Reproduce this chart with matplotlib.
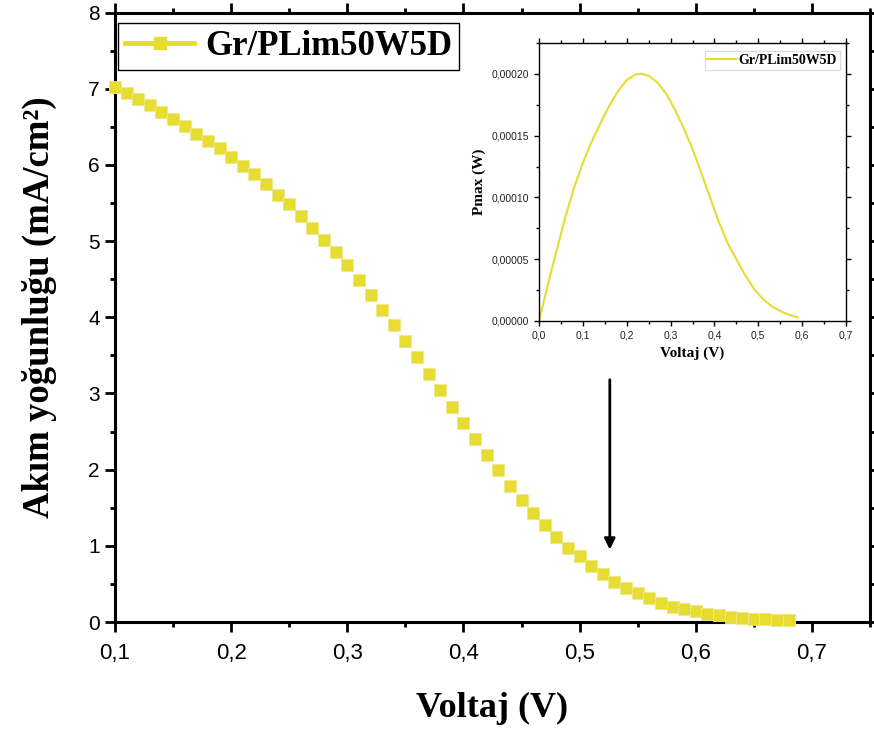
import matplotlib
matplotlib.use("Agg")
import matplotlib.pyplot as plt
from matplotlib.lines import Line2D
from matplotlib.ticker import MultipleLocator, FuncFormatter

# J-V data (current density, mA/cm^2)
voltage = [0.10, 0.11, 0.12, 0.13, 0.14, 0.15, 0.16, 0.17, 0.18, 0.19,
           0.20, 0.21, 0.22, 0.23, 0.24, 0.25, 0.26, 0.27, 0.28, 0.29,
           0.30, 0.31, 0.32, 0.33, 0.34, 0.35, 0.36, 0.37, 0.38, 0.39,
           0.40, 0.41, 0.42, 0.43, 0.44, 0.45, 0.46, 0.47, 0.48, 0.49,
           0.50, 0.51, 0.52, 0.53, 0.54, 0.55, 0.56, 0.57, 0.58, 0.59,
           0.60, 0.61, 0.62, 0.63, 0.64, 0.65, 0.66, 0.67, 0.68]
current = [7.02, 6.94, 6.86, 6.78, 6.69, 6.60, 6.51, 6.41, 6.31, 6.22,
           6.10, 5.99, 5.88, 5.75, 5.61, 5.48, 5.33, 5.17, 5.01, 4.85,
           4.68, 4.49, 4.29, 4.10, 3.90, 3.69, 3.48, 3.26, 3.05, 2.82,
           2.61, 2.40, 2.19, 1.99, 1.79, 1.60, 1.43, 1.27, 1.11, 0.97,
           0.86, 0.74, 0.63, 0.53, 0.45, 0.38, 0.31, 0.25, 0.20, 0.17,
           0.14, 0.11, 0.09, 0.07, 0.05, 0.04, 0.035, 0.03, 0.02]

# P-V data for the inset (W)
p_voltage = [0.00, 0.02, 0.04, 0.06, 0.08, 0.10, 0.12, 0.14, 0.16, 0.18,
             0.20, 0.22, 0.235, 0.25, 0.27, 0.29, 0.31, 0.33, 0.35, 0.37,
             0.39, 0.41, 0.43, 0.45, 0.47, 0.49, 0.51, 0.53, 0.55, 0.57, 0.59]
power = [0.0, 2.9e-5, 5.7e-5, 8.4e-5, 1.08e-4, 1.28e-4, 1.45e-4, 1.60e-4, 1.74e-4, 1.86e-4,
         1.95e-4, 1.995e-4, 2.0e-4, 1.985e-4, 1.93e-4, 1.84e-4, 1.71e-4, 1.56e-4, 1.39e-4, 1.20e-4,
         1.00e-4, 8.0e-5, 6.3e-5, 5.0e-5, 3.7e-5, 2.6e-5, 1.8e-5, 1.2e-5, 8.0e-6, 5.0e-6, 3.0e-6]

series_label = "Gr/PLim50W5D"
arrow_v = 0.526
arrow_from, arrow_to = 3.18, 0.95

yellow = "#E6DC32"
serif = ["Liberation Serif", "DejaVu Serif"]
sans = ["Liberation Sans", "DejaVu Sans"]

fig = plt.figure(figsize=(8.74, 7.31), dpi=100)
ax = fig.add_axes([0.1316, 0.1491, 0.8638, 0.8338])

ax.plot(voltage, current, linestyle="none", marker="s", markersize=9,
        markerfacecolor=yellow, markeredgecolor="#EEE88A", markeredgewidth=0.6,
        clip_on=False, zorder=3)

ax.set_xlim(0.1, 0.75)
ax.set_ylim(0, 8)
ax.xaxis.set_major_locator(MultipleLocator(0.1))
ax.xaxis.set_minor_locator(MultipleLocator(0.05))
ax.yaxis.set_major_locator(MultipleLocator(1))
ax.yaxis.set_minor_locator(MultipleLocator(0.5))
ax.xaxis.set_major_formatter(FuncFormatter(lambda v, p: f"{v:.1f}".replace(".", ",")))
ax.yaxis.set_major_formatter(FuncFormatter(lambda v, p: f"{v:.0f}"))

for s in ax.spines.values():
    s.set_linewidth(2.2)
ax.tick_params(which="both", direction="out", top=True, right=True, width=2.0)
ax.tick_params(which="major", length=7)
ax.tick_params(which="minor", length=3.5)
ax.tick_params(axis="x", which="major", pad=8, labelsize=16)
ax.tick_params(axis="y", which="major", pad=4, labelsize=15)
for t in ax.get_xticklabels() + ax.get_yticklabels():
    t.set_family(sans)

ax.set_xlabel("Voltaj (V)", family=serif, fontweight="bold", fontsize=26, labelpad=20)
ax.set_ylabel("Akım yoğunluğu (mA/cm²)", family=serif, fontweight="bold",
              fontsize=26.5)
ax.yaxis.set_label_coords(-0.077, 0.517)

handle = Line2D([], [], color=yellow, lw=3.5, marker="s", markersize=9,
                markerfacecolor=yellow, markeredgecolor=yellow)
leg = ax.legend([handle], [series_label], loc="upper left",
                bbox_to_anchor=(0.004, 0.983), borderaxespad=0, borderpad=0.2,
                handlelength=2.0, handletextpad=0.3, fancybox=False,
                edgecolor="black", framealpha=1,
                prop={"family": serif, "weight": "bold", "size": 25})
leg.get_frame().set_linewidth(1.0)

ax.annotate("", xy=(arrow_v, arrow_to), xytext=(arrow_v, arrow_from),
            arrowprops=dict(arrowstyle="-|>", color="black", lw=2,
                            mutation_scale=16, shrinkA=0, shrinkB=0))

# inset: power curve
ins = fig.add_axes([0.6167, 0.5609, 0.3513, 0.3803])
ins.plot(p_voltage, power, color=yellow, lw=1.5, label=series_label)
ins.set_xlim(0, 0.7)
ins.set_ylim(0, 0.000225)
ins.xaxis.set_major_locator(MultipleLocator(0.1))
ins.xaxis.set_minor_locator(MultipleLocator(0.05))
ins.yaxis.set_major_locator(MultipleLocator(0.00005))
ins.yaxis.set_minor_locator(MultipleLocator(0.000025))
ins.xaxis.set_major_formatter(FuncFormatter(lambda v, p: f"{v:.1f}".replace(".", ",")))
ins.yaxis.set_major_formatter(FuncFormatter(lambda v, p: f"{v:.5f}".replace(".", ",")))
for s in ins.spines.values():
    s.set_linewidth(1.0)
ins.tick_params(which="both", direction="out", width=1.0, labelsize=7.5,
                labelcolor="#222222")
ins.tick_params(which="major", length=3.5)
ins.tick_params(which="minor", length=2)
ins.tick_params(which="both", top=True, right=True)
for t in ins.get_xticklabels() + ins.get_yticklabels():
    t.set_family(sans)
ins.set_xlabel("Voltaj (V)", family=serif, fontweight="bold", fontsize=11, labelpad=4)
ins.set_ylabel("Pmax (W)", family=serif, fontweight="bold", fontsize=11, labelpad=4)
ileg = ins.legend(loc="upper right", bbox_to_anchor=(0.98, 0.97), borderaxespad=0,
                  borderpad=0.2, handlelength=2.1, handletextpad=0.15,
                  fancybox=False, edgecolor="0.85", framealpha=1,
                  prop={"family": serif, "weight": "bold", "size": 10})
ileg.get_frame().set_linewidth(0.8)

fig.savefig("out.png", dpi=100)
